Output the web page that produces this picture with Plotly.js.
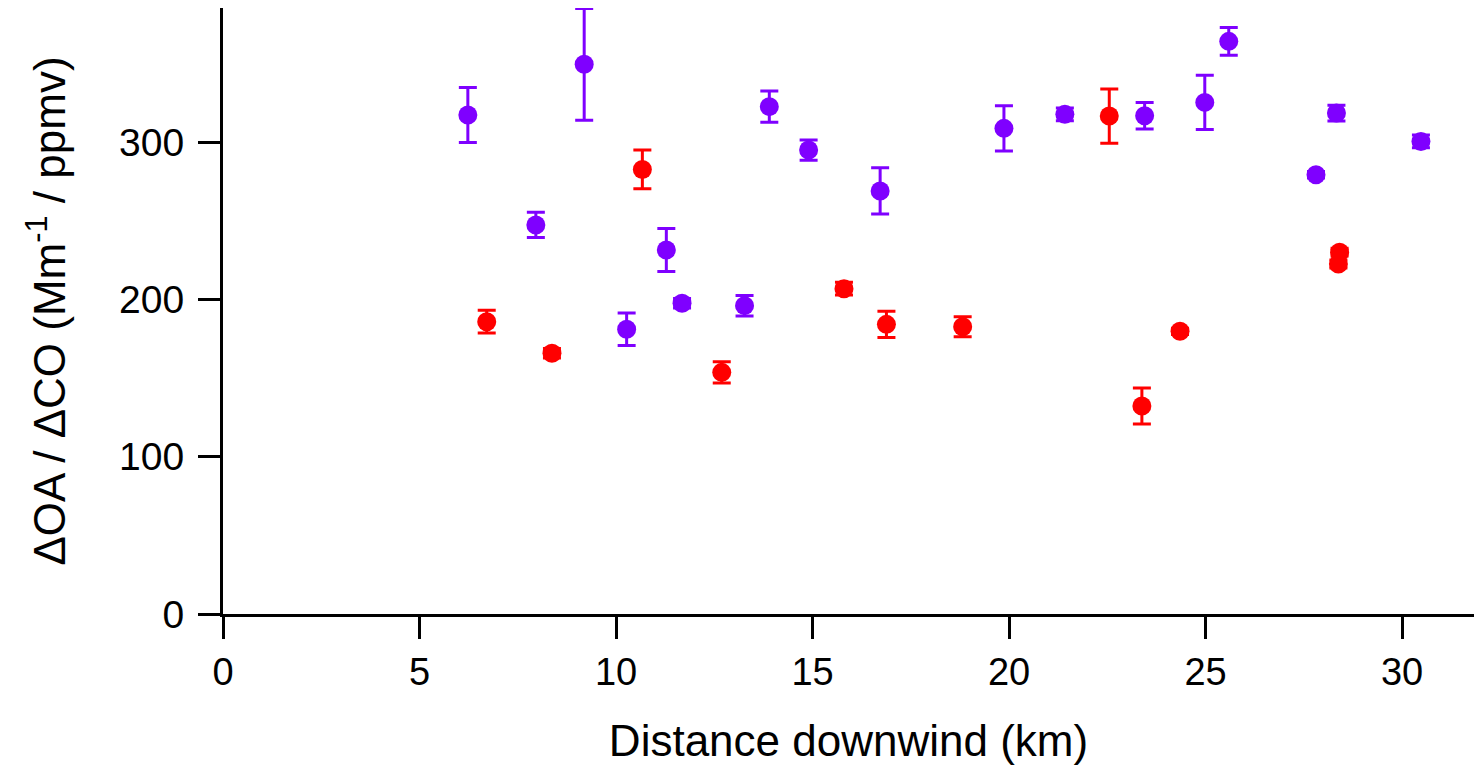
<!DOCTYPE html>
<html>
<head>
<meta charset="utf-8">
<script src="https://cdn.plot.ly/plotly-3.0.1.min.js"></script>
<style>html,body{margin:0;padding:0;background:#fff;}#chart{width:1474px;height:767px;}</style>
</head>
<body>
<div id="chart"></div>
<script>
// Purple series
const purpleX = [6.23, 7.96, 9.19, 10.27, 11.28, 11.68, 13.27, 13.90, 14.90, 16.72, 19.87, 21.42, 23.45, 24.98, 25.59, 27.81, 28.33, 30.48];
const purpleY = [317.2, 247.3, 349.4, 181.0, 231.4, 197.5, 196.0, 322.5, 294.9, 268.9, 308.7, 317.6, 316.7, 325.2, 364.0, 279.2, 318.4, 300.4];
const purpleErr = [17.5, 8.0, 35.5, 10.3, 13.7, 3.0, 6.5, 10.0, 6.4, 14.7, 14.4, 4.0, 8.4, 17.2, 8.8, 2.0, 5.0, 4.0];
// Red series
const redX = [6.71, 8.37, 10.67, 12.69, 15.80, 16.88, 18.82, 22.55, 23.38, 24.35, 28.41, 28.38];
const redY = [185.8, 165.7, 282.6, 153.6, 206.8, 184.1, 182.6, 316.5, 132.2, 179.7, 230.0, 222.5];
const redErr = [7.2, 3.0, 12.3, 6.8, 4.0, 8.4, 6.3, 17.2, 11.4, 2.0, 2.5, 2.5];
// Axis ticks
const xTicks = [0, 5, 10, 15, 20, 25, 30];
const yTicks = [0, 100, 200, 300];

const FONT = 'Liberation Sans, Arial, sans-serif';

function series(x, y, err, color) {
  return {
    type: 'scatter', mode: 'markers', x: x, y: y,
    marker: {color: color, size: 19, line: {width: 0}},
    error_y: {type: 'data', array: err, visible: true, color: color, thickness: 3, width: 9},
    showlegend: false, hoverinfo: 'x+y'
  };
}

const data = [
  series(purpleX, purpleY, purpleErr, '#7F00FF'),
  series(redX, redY, redErr, '#FF0000')
];

const layout = {
  width: 1474, height: 767,
  paper_bgcolor: '#ffffff', plot_bgcolor: '#ffffff',
  margin: {l: 223, r: 0, t: 8, b: 153, pad: 0},
  font: {family: FONT, color: '#000', size: 38},
  xaxis: {
    range: [0, 31.83], tickvals: xTicks, ticktext: xTicks.map(String),
    showgrid: false, zeroline: false, showline: true, linecolor: '#000', linewidth: 3,
    ticks: 'outside', ticklen: 22, tickwidth: 3, tickcolor: '#000',
    tickfont: {size: 38, family: FONT},
    title: {text: 'Distance downwind (km)', font: {size: 44, family: FONT}, standoff: 34}
  },
  yaxis: {
    range: [0, 385.2], tickvals: yTicks, ticktext: yTicks.map(String),
    showgrid: false, zeroline: false, showline: true, linecolor: '#000', linewidth: 3,
    ticks: 'outside', ticklen: 22, tickwidth: 3, tickcolor: '#000',
    tickfont: {size: 39, family: FONT}, ticklabelstandoff: 6,
    title: {text: 'ΔOA / ΔCO (Mm<sup>-1</sup> / ppmv)', font: {size: 44, family: FONT}, standoff: 40}
  }
};

Plotly.newPlot('chart', data, layout, {staticPlot: true, displayModeBar: false});
</script>
</body>
</html>
